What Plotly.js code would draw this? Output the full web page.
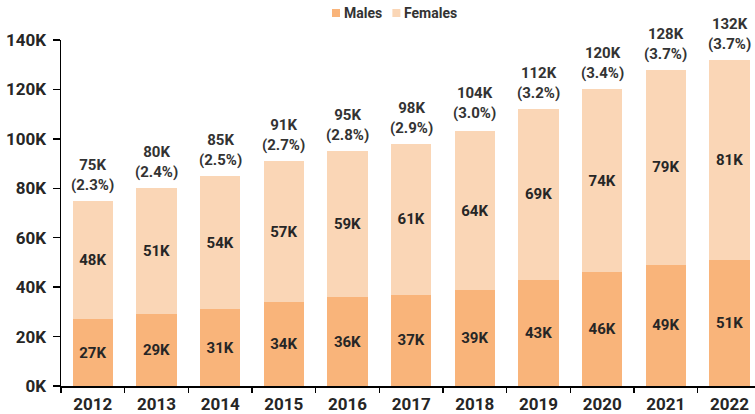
<!DOCTYPE html>
<html>
<head>
<meta charset="utf-8">
<script src="https://cdn.plot.ly/plotly-3.0.1.min.js"></script>
<style>html,body{margin:0;padding:0;background:#fff;}#chart{width:755px;height:414px;}</style>
</head>
<body>
<div id="chart"></div>
<script>
const years = ['2012','2013','2014','2015','2016','2017','2018','2019','2020','2021','2022'];
const males = [27, 29, 31, 34, 36, 37, 39, 43, 46, 49, 51];
const females = [48, 51, 54, 57, 59, 61, 64, 69, 74, 79, 81];
const totals = [75, 80, 85, 91, 95, 98, 104, 112, 120, 128, 132];
const shares = ['2.3%', '2.4%', '2.5%', '2.7%', '2.8%', '2.9%', '3.0%', '3.2%', '3.4%', '3.7%', '3.7%'];
const yTicks = [0, 20, 40, 60, 80, 100, 120, 140];
const seriesNames = ['Males', 'Females'];
const seriesColors = ['#F9B47A', '#FAD6B6'];

const font = 'Roboto, "Liberation Sans", Arial, sans-serif';
const txtColor = '#262626';

const traces = [
  {
    type: 'bar', name: seriesNames[0], x: years, y: males.map(v => v * 1000),
    marker: {color: seriesColors[0]},
    text: males.map(v => '<b>' + v + 'K</b>'), textposition: 'inside', insidetextanchor: 'middle',
    textfont: {family: font, size: 15, color: txtColor}, hoverinfo: 'skip'
  },
  {
    type: 'bar', name: seriesNames[1], x: years, y: females.map(v => v * 1000),
    marker: {color: seriesColors[1]},
    text: females.map(v => '<b>' + v + 'K</b>'), textposition: 'inside', insidetextanchor: 'middle',
    textfont: {family: font, size: 15, color: txtColor}, hoverinfo: 'skip'
  }
];

// total labels above bars (category index used for x)
const annotations = years.map((y, i) => ({
  x: i, y: totals[i] * 1000, xref: 'x', yref: 'y',
  text: '<b>' + totals[i] + 'K<br>(' + shares[i] + ')</b>',
  showarrow: false, yanchor: 'bottom', yshift: 5,
  font: {family: font, size: 15, color: '#333333'}
}));

// manual legend (paper coords relative to plot area)
const legX = [0.3905, 0.4775];
const shapes = [];
seriesNames.forEach((n, k) => {
  shapes.push({type: 'rect', xref: 'paper', yref: 'paper',
    x0: legX[k], x1: legX[k] + 0.0115, y0: 1.0665, y1: 1.0896,
    fillcolor: seriesColors[k], line: {width: 0}});
  annotations.push({xref: 'paper', yref: 'paper', x: legX[k] + 0.0145, y: 1.078,
    xanchor: 'left', yanchor: 'middle', showarrow: false,
    text: '<b>' + n + '</b>', font: {family: font, size: 14, color: '#333333'}});
});

const layout = {
  width: 755, height: 414,
  margin: {l: 61, r: 0, t: 40, b: 28, autoexpand: false},
  barmode: 'stack', bargap: 0.37,
  paper_bgcolor: '#fff', plot_bgcolor: '#fff',
  showlegend: false,
  xaxis: {
    type: 'category', range: [-0.5, 10.4],
    showline: true, linecolor: '#000', linewidth: 1.5,
    ticks: 'outside', tickson: 'boundaries', ticklen: 5, tickcolor: '#000', tickwidth: 1.5,
    tickfont: {family: font, size: 17, color: txtColor, weight: 'bold'},
    ticklabelstandoff: 2,
    showgrid: false, zeroline: false, fixedrange: true
  },
  yaxis: {
    range: [0, 140000], tickvals: yTicks.map(v => v * 1000),
    ticktext: yTicks.map(v => v + 'K'),
    showline: true, linecolor: '#000', linewidth: 1.5,
    ticks: 'outside', ticklen: 7, tickcolor: '#000', tickwidth: 1.5,
    tickfont: {family: font, size: 17, color: txtColor, weight: 'bold'},
    ticklabelstandoff: 3,
    showgrid: false, zeroline: false, fixedrange: true
  },
  annotations: annotations,
  shapes: shapes
};

Plotly.newPlot('chart', traces, layout, {displayModeBar: false, staticPlot: true});
</script>
</body>
</html>
